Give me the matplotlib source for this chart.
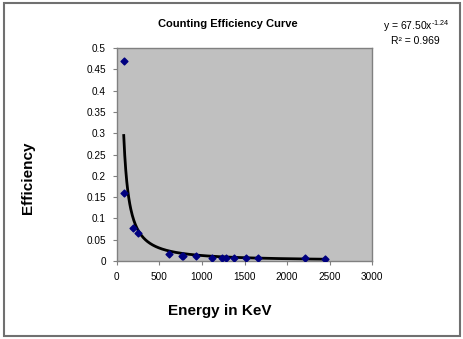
import numpy as np
import matplotlib
matplotlib.use("Agg")
import matplotlib.pyplot as plt
from matplotlib.patches import Rectangle

plt.rcParams["font.family"] = ["Liberation Sans", "DejaVu Sans"]
plt.rcParams["mathtext.fontset"] = "custom"
plt.rcParams["mathtext.rm"] = "Liberation Sans"
plt.rcParams["mathtext.it"] = "Liberation Sans"

# measured points (energy in keV, efficiency)
energy = [80, 88, 185, 243, 609, 770, 780, 935, 1122, 1240, 1280,
          1378, 1512, 1661, 2207, 2450]
efficiency = [0.469, 0.160, 0.078, 0.067, 0.016, 0.0125, 0.011, 0.011,
              0.008, 0.008, 0.008, 0.008, 0.008, 0.007, 0.006, 0.004]

# power trendline as printed on the chart
coef_a = 67.50
coef_b = -1.24
r_squared = 0.969

fig = plt.figure(figsize=(4.64, 3.39), dpi=100)
fig.patches.append(Rectangle((0.008, 0.008), 0.984, 0.984, transform=fig.transFigure,
                             fill=False, edgecolor="#707070", linewidth=1.5))

ax = fig.add_axes([0.252, 0.230, 0.550, 0.628])
ax.set_facecolor("#C0C0C0")
for s in ax.spines.values():
    s.set_color("#808080")
    s.set_linewidth(1.0)

xs = np.linspace(min(energy), max(energy), 400)
ax.plot(xs, coef_a * xs ** coef_b, color="black", linewidth=2.0, zorder=2)
ax.scatter(energy, efficiency, marker="D", s=12, color="#000080", zorder=3)

ax.set_xlim(0, 3000)
ax.set_ylim(0, 0.5)
ax.set_xticks(np.arange(0, 3001, 500))
ax.set_yticks(np.arange(0, 0.501, 0.05))
ax.set_yticklabels(["0", "0.05", "0.1", "0.15", "0.2", "0.25", "0.3",
                    "0.35", "0.4", "0.45", "0.5"])
ax.tick_params(direction="out", length=3, width=0.8, color="#808080",
               labelsize=7.2, pad=5)

fig.text(0.49, 0.928, "Counting Efficiency Curve", ha="center", va="center",
         fontsize=8, fontweight="bold")
fig.text(0.060, 0.475, "Efficiency", ha="center", va="center", rotation=90,
         fontsize=11, fontweight="bold")
fig.text(0.473, 0.082, "Energy in KeV", ha="center", va="center",
         fontsize=11, fontweight="bold")

fig.text(0.970, 0.923, "y = %.2fx$^{\\text{%.2f}}$" % (coef_a, coef_b), ha="right",
         va="center", fontsize=7.5)
fig.text(0.895, 0.880, "R² = %.3f" % r_squared, ha="center", va="center",
         fontsize=7.5)

fig.savefig("out.png", dpi=100)
